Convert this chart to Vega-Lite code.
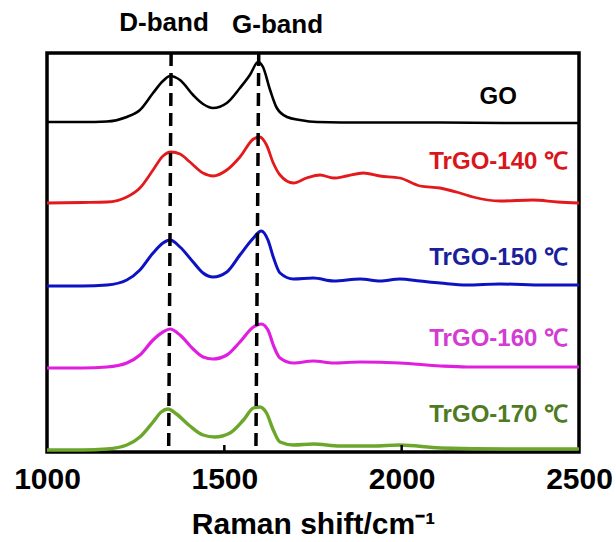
{
  "$schema": "https://vega.github.io/schema/vega-lite/v6.json",
  "width": 532,
  "height": 399,
  "autosize": {"type": "none"},
  "padding": {"left": 47, "top": 53, "right": 37, "bottom": 90},
  "background": "white",
  "config": {
    "view": {"stroke": "#000000", "strokeWidth": 3.5},
    "font": "Liberation Sans"
  },
  "datasets": {
    "spectra": [
      {"series": "GO", "x": 1000, "y": 330}, {"series": "GO", "x": 1100, "y": 330}, {"series": "GO", "x": 1169, "y": 330.5}, {"series": "GO", "x": 1225, "y": 335}, {"series": "GO", "x": 1262, "y": 342}, {"series": "GO", "x": 1299, "y": 359}, {"series": "GO", "x": 1327, "y": 371}, {"series": "GO", "x": 1347, "y": 376}, {"series": "GO", "x": 1375, "y": 372}, {"series": "GO", "x": 1412, "y": 357}, {"series": "GO", "x": 1440, "y": 348}, {"series": "GO", "x": 1468, "y": 344}, {"series": "GO", "x": 1507, "y": 349}, {"series": "GO", "x": 1544, "y": 364}, {"series": "GO", "x": 1572, "y": 377}, {"series": "GO", "x": 1595, "y": 390}, {"series": "GO", "x": 1609, "y": 385}, {"series": "GO", "x": 1629, "y": 362}, {"series": "GO", "x": 1648, "y": 344}, {"series": "GO", "x": 1677, "y": 335}, {"series": "GO", "x": 1713, "y": 332}, {"series": "GO", "x": 1761, "y": 330}, {"series": "GO", "x": 1900, "y": 329.5}, {"series": "GO", "x": 2100, "y": 329.5}, {"series": "GO", "x": 2300, "y": 329}, {"series": "GO", "x": 2500, "y": 329},

      {"series": "TrGO-140", "x": 1000, "y": 249}, {"series": "TrGO-140", "x": 1100, "y": 249.5}, {"series": "TrGO-140", "x": 1169, "y": 250}, {"series": "TrGO-140", "x": 1225, "y": 255}, {"series": "TrGO-140", "x": 1262, "y": 264}, {"series": "TrGO-140", "x": 1299, "y": 282}, {"series": "TrGO-140", "x": 1327, "y": 296}, {"series": "TrGO-140", "x": 1350, "y": 300}, {"series": "TrGO-140", "x": 1375, "y": 298}, {"series": "TrGO-140", "x": 1403, "y": 290}, {"series": "TrGO-140", "x": 1440, "y": 279}, {"series": "TrGO-140", "x": 1468, "y": 276}, {"series": "TrGO-140", "x": 1507, "y": 282}, {"series": "TrGO-140", "x": 1544, "y": 295}, {"series": "TrGO-140", "x": 1582, "y": 313}, {"series": "TrGO-140", "x": 1600, "y": 315}, {"series": "TrGO-140", "x": 1619, "y": 307}, {"series": "TrGO-140", "x": 1638, "y": 289}, {"series": "TrGO-140", "x": 1657, "y": 277}, {"series": "TrGO-140", "x": 1695, "y": 269}, {"series": "TrGO-140", "x": 1732, "y": 274}, {"series": "TrGO-140", "x": 1770, "y": 277}, {"series": "TrGO-140", "x": 1808, "y": 274}, {"series": "TrGO-140", "x": 1845, "y": 276}, {"series": "TrGO-140", "x": 1892, "y": 279}, {"series": "TrGO-140", "x": 1939, "y": 276}, {"series": "TrGO-140", "x": 1995, "y": 274}, {"series": "TrGO-140", "x": 2052, "y": 266}, {"series": "TrGO-140", "x": 2108, "y": 264}, {"series": "TrGO-140", "x": 2164, "y": 259}, {"series": "TrGO-140", "x": 2201, "y": 255}, {"series": "TrGO-140", "x": 2277, "y": 251}, {"series": "TrGO-140", "x": 2370, "y": 252}, {"series": "TrGO-140", "x": 2440, "y": 250}, {"series": "TrGO-140", "x": 2500, "y": 249},

      {"series": "TrGO-150", "x": 1000, "y": 166}, {"series": "TrGO-150", "x": 1100, "y": 166}, {"series": "TrGO-150", "x": 1169, "y": 167}, {"series": "TrGO-150", "x": 1225, "y": 172}, {"series": "TrGO-150", "x": 1262, "y": 182}, {"series": "TrGO-150", "x": 1299, "y": 199}, {"series": "TrGO-150", "x": 1327, "y": 209}, {"series": "TrGO-150", "x": 1347, "y": 212}, {"series": "TrGO-150", "x": 1375, "y": 205}, {"series": "TrGO-150", "x": 1412, "y": 190}, {"series": "TrGO-150", "x": 1440, "y": 179}, {"series": "TrGO-150", "x": 1468, "y": 175}, {"series": "TrGO-150", "x": 1507, "y": 180}, {"series": "TrGO-150", "x": 1544, "y": 197}, {"series": "TrGO-150", "x": 1582, "y": 214}, {"series": "TrGO-150", "x": 1604, "y": 221}, {"series": "TrGO-150", "x": 1623, "y": 212}, {"series": "TrGO-150", "x": 1638, "y": 195}, {"series": "TrGO-150", "x": 1657, "y": 179}, {"series": "TrGO-150", "x": 1695, "y": 173}, {"series": "TrGO-150", "x": 1751, "y": 174}, {"series": "TrGO-150", "x": 1808, "y": 171}, {"series": "TrGO-150", "x": 1883, "y": 173}, {"series": "TrGO-150", "x": 1939, "y": 171}, {"series": "TrGO-150", "x": 1995, "y": 173}, {"series": "TrGO-150", "x": 2052, "y": 171}, {"series": "TrGO-150", "x": 2109, "y": 169}, {"series": "TrGO-150", "x": 2183, "y": 167}, {"series": "TrGO-150", "x": 2277, "y": 168}, {"series": "TrGO-150", "x": 2400, "y": 167}, {"series": "TrGO-150", "x": 2500, "y": 167},

      {"series": "TrGO-160", "x": 1000, "y": 84}, {"series": "TrGO-160", "x": 1100, "y": 84}, {"series": "TrGO-160", "x": 1169, "y": 85}, {"series": "TrGO-160", "x": 1225, "y": 89}, {"series": "TrGO-160", "x": 1262, "y": 97}, {"series": "TrGO-160", "x": 1299, "y": 112}, {"series": "TrGO-160", "x": 1327, "y": 120}, {"series": "TrGO-160", "x": 1347, "y": 123}, {"series": "TrGO-160", "x": 1375, "y": 117}, {"series": "TrGO-160", "x": 1412, "y": 103}, {"series": "TrGO-160", "x": 1440, "y": 95}, {"series": "TrGO-160", "x": 1468, "y": 93}, {"series": "TrGO-160", "x": 1507, "y": 97}, {"series": "TrGO-160", "x": 1544, "y": 110}, {"series": "TrGO-160", "x": 1582, "y": 125}, {"series": "TrGO-160", "x": 1604, "y": 128}, {"series": "TrGO-160", "x": 1623, "y": 122}, {"series": "TrGO-160", "x": 1638, "y": 107}, {"series": "TrGO-160", "x": 1657, "y": 94}, {"series": "TrGO-160", "x": 1695, "y": 89}, {"series": "TrGO-160", "x": 1751, "y": 91}, {"series": "TrGO-160", "x": 1808, "y": 89}, {"series": "TrGO-160", "x": 1883, "y": 90}, {"series": "TrGO-160", "x": 1995, "y": 89}, {"series": "TrGO-160", "x": 2109, "y": 86}, {"series": "TrGO-160", "x": 2183, "y": 85}, {"series": "TrGO-160", "x": 2300, "y": 85}, {"series": "TrGO-160", "x": 2500, "y": 85},

      {"series": "TrGO-170", "x": 1000, "y": 2}, {"series": "TrGO-170", "x": 1100, "y": 2}, {"series": "TrGO-170", "x": 1169, "y": 3}, {"series": "TrGO-170", "x": 1225, "y": 7}, {"series": "TrGO-170", "x": 1262, "y": 15}, {"series": "TrGO-170", "x": 1299, "y": 30}, {"series": "TrGO-170", "x": 1322, "y": 40}, {"series": "TrGO-170", "x": 1341, "y": 43}, {"series": "TrGO-170", "x": 1365, "y": 38}, {"series": "TrGO-170", "x": 1403, "y": 26}, {"series": "TrGO-170", "x": 1440, "y": 17}, {"series": "TrGO-170", "x": 1473, "y": 15}, {"series": "TrGO-170", "x": 1516, "y": 19}, {"series": "TrGO-170", "x": 1554, "y": 32}, {"series": "TrGO-170", "x": 1582, "y": 44}, {"series": "TrGO-170", "x": 1600, "y": 45}, {"series": "TrGO-170", "x": 1619, "y": 39}, {"series": "TrGO-170", "x": 1638, "y": 22}, {"series": "TrGO-170", "x": 1657, "y": 10}, {"series": "TrGO-170", "x": 1695, "y": 7}, {"series": "TrGO-170", "x": 1751, "y": 8}, {"series": "TrGO-170", "x": 1826, "y": 6}, {"series": "TrGO-170", "x": 1920, "y": 6}, {"series": "TrGO-170", "x": 1995, "y": 7}, {"series": "TrGO-170", "x": 2109, "y": 4}, {"series": "TrGO-170", "x": 2300, "y": 3}, {"series": "TrGO-170", "x": 2500, "y": 3}
    ],
    "bands": [
      {"band": "D", "x": 1350, "x2": 1343, "y": 399, "y2": 0},
      {"band": "G", "x": 1597, "x2": 1589, "y": 399, "y2": 0}
    ],
    "ticks": [
      {"x": 1500, "y": 0, "y2": 7},
      {"x": 2000, "y": 0, "y2": 7}
    ],
    "bandLabels": [
      {"label": "D-band", "x": 1330, "y": 429},
      {"label": "G-band", "x": 1650, "y": 427}
    ],
    "seriesLabels": [
      {"series": "GO", "label": "GO", "x": 2325, "y": 355},
      {"series": "TrGO-140", "label": "TrGO-140 ℃", "x": 2469, "y": 290},
      {"series": "TrGO-150", "label": "TrGO-150 ℃", "x": 2469, "y": 194},
      {"series": "TrGO-160", "label": "TrGO-160 ℃", "x": 2469, "y": 113},
      {"series": "TrGO-170", "label": "TrGO-170 ℃", "x": 2469, "y": 37}
    ]
  },
  "layer": [
    {
      "data": {"name": "spectra"},
      "mark": {"type": "line", "interpolate": "monotone", "clip": false},
      "encoding": {
        "x": {
          "field": "x", "type": "quantitative",
          "scale": {"domain": [1000, 2500], "nice": false, "zero": false},
          "axis": {
            "title": "Raman shift/cm⁻¹",
            "values": [1000, 1500, 2000, 2500],
            "format": "d",
            "grid": false,
            "domain": false,
            "ticks": false,
            "labelFontSize": 30,
            "labelFontWeight": "bold",
            "labelColor": "#000000",
            "labelPadding": 12,
            "labelFlush": false,
            "titleFontSize": 30,
            "titleFontWeight": "bold",
            "titleColor": "#000000",
            "titlePadding": 15
          }
        },
        "y": {
          "field": "y", "type": "quantitative",
          "scale": {"domain": [0, 399], "nice": false, "zero": false},
          "axis": null
        },
        "stroke": {
          "field": "series", "type": "nominal",
          "scale": {
            "domain": ["GO", "TrGO-140", "TrGO-150", "TrGO-160", "TrGO-170"],
            "range": ["#000000", "#e3191c", "#0d12c2", "#e01ee0", "#6ca72c"]
          },
          "legend": null
        },
        "strokeWidth": {
          "field": "series", "type": "nominal",
          "scale": {
            "domain": ["GO", "TrGO-140", "TrGO-150", "TrGO-160", "TrGO-170"],
            "range": [2.6, 3.4, 3.4, 3.4, 3.6]
          },
          "legend": null
        }
      }
    },
    {
      "data": {"name": "bands"},
      "mark": {"type": "rule", "strokeDash": [13, 7], "strokeWidth": 3.5, "color": "#000000"},
      "encoding": {
        "x": {"field": "x", "type": "quantitative"},
        "x2": {"field": "x2"},
        "y": {"field": "y", "type": "quantitative"},
        "y2": {"field": "y2"}
      }
    },
    {
      "data": {"name": "ticks"},
      "mark": {"type": "rule", "strokeWidth": 2.5, "color": "#000000"},
      "encoding": {
        "x": {"field": "x", "type": "quantitative"},
        "y": {"field": "y", "type": "quantitative"},
        "y2": {"field": "y2"}
      }
    },
    {
      "data": {"name": "seriesLabels"},
      "mark": {"type": "text", "align": "right", "baseline": "middle", "fontSize": 24, "fontWeight": "bold"},
      "encoding": {
        "x": {"field": "x", "type": "quantitative"},
        "y": {"field": "y", "type": "quantitative"},
        "text": {"field": "label", "type": "nominal"},
        "fill": {
          "field": "series", "type": "nominal",
          "scale": {
            "domain": ["GO", "TrGO-140", "TrGO-150", "TrGO-160", "TrGO-170"],
            "range": ["#000000", "#d9161b", "#1a1f9c", "#d23cd2", "#4e7a23"]
          },
          "legend": null
        }
      }
    },
    {
      "data": {"name": "bandLabels"},
      "mark": {"type": "text", "align": "center", "baseline": "middle", "fontSize": 26, "fontWeight": "bold", "color": "#000000"},
      "encoding": {
        "x": {"field": "x", "type": "quantitative"},
        "y": {"field": "y", "type": "quantitative"},
        "text": {"field": "label", "type": "nominal"}
      }
    }
  ]
}
